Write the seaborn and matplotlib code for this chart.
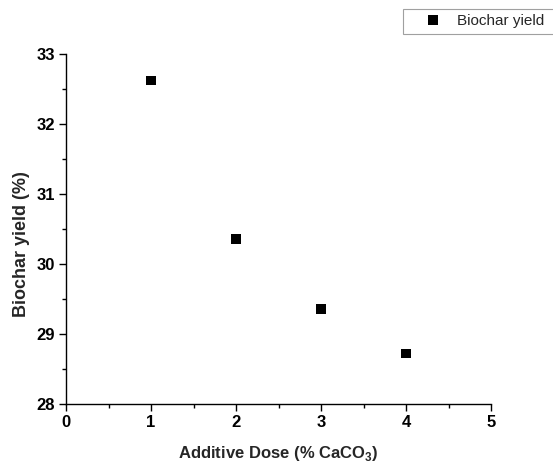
import matplotlib
matplotlib.use("Agg")
import matplotlib.pyplot as plt
import seaborn as sns
import pandas as pd
from matplotlib.ticker import MultipleLocator

dose = [1, 2, 3, 4]
yield_pct = [32.62, 30.36, 29.36, 28.72]
series_name = "Biochar yield"

df = pd.DataFrame({"dose": dose, "yield": yield_pct, "series": series_name})

sns.set_style("ticks")
plt.rcParams['font.family'] = ['Liberation Sans', 'DejaVu Sans']
plt.rcParams['mathtext.fontset'] = 'custom'
plt.rcParams['mathtext.bf'] = 'Liberation Sans:bold'
plt.rcParams['mathtext.rm'] = 'Liberation Sans'

fig = plt.figure(figsize=(5.53, 4.66), dpi=100)
ax = fig.add_axes([66/553, 1-404/466, (491-66)/553, (404-54)/466])

sns.scatterplot(data=df, x="dose", y="yield", hue="series", palette=["black"],
                marker="s", s=48, edgecolor="black", linewidth=0, ax=ax, legend=True)

ax.set_xlim(0, 5)
ax.set_ylim(28, 33)
ax.xaxis.set_major_locator(MultipleLocator(1))
ax.xaxis.set_minor_locator(MultipleLocator(0.5))
ax.yaxis.set_major_locator(MultipleLocator(1))
ax.yaxis.set_minor_locator(MultipleLocator(0.5))
ax.tick_params(which="major", direction="out", length=5, width=1, labelsize=12, colors="black", pad=3)
ax.tick_params(which="minor", direction="out", length=3, width=1, colors="black")
for lab in ax.get_xticklabels() + ax.get_yticklabels():
    lab.set_fontweight("bold")
for sp in ["top", "right"]:
    ax.spines[sp].set_visible(False)
for sp in ["left", "bottom"]:
    ax.spines[sp].set_color("black")
    ax.spines[sp].set_linewidth(1)

ax.set_xlabel("Additive Dose (% CaCO$_\\mathbf{3}$)", fontsize=12, fontweight="bold", labelpad=10)
ax.set_ylabel("Biochar yield (%)", fontsize=13, fontweight="bold")
ax.yaxis.set_label_coords(-0.085, 0.457)

handles, labels = ax.get_legend_handles_labels()
ax.get_legend().remove()
leg = fig.legend(handles, labels, loc="upper left",
                 bbox_to_anchor=(403/553, 1-34/466, 160/553, 25/466), mode="expand",
                 borderaxespad=0,
                 frameon=True, fancybox=False, fontsize=11, markerscale=1.1,
                 borderpad=0.35, handletextpad=-0.08, handlelength=3.24)
leg.get_frame().set_edgecolor("#888888")
leg.get_frame().set_linewidth(0.8)

fig.savefig("out.png", dpi=100)
